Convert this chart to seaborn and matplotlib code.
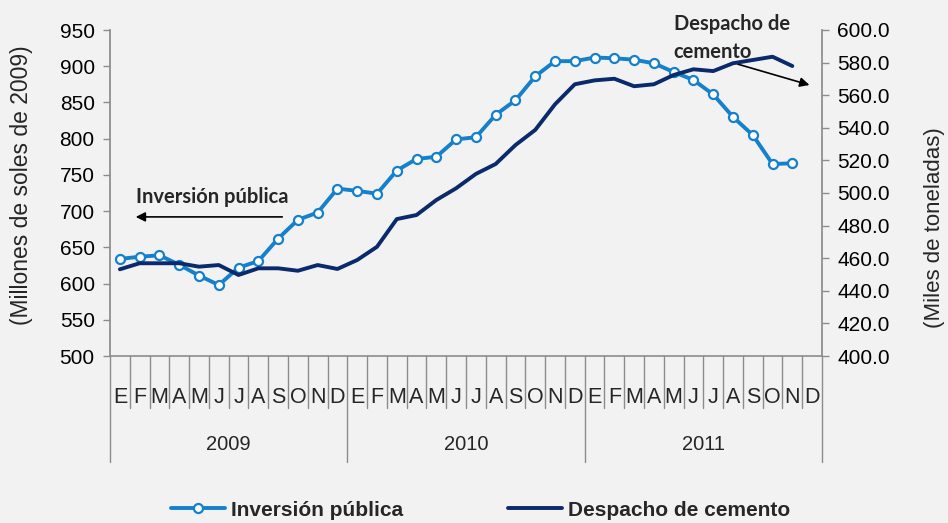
import numpy as np
import pandas as pd
import matplotlib
matplotlib.use('Agg')
import matplotlib.pyplot as plt
import matplotlib.transforms as mtransforms
import seaborn as sns

# data
months = ['E', 'F', 'M', 'A', 'M', 'J', 'J', 'A', 'S', 'O', 'N', 'D']
years = ['2009', '2010', '2011']

# Inversión pública (millones de soles de 2009), left axis
inversion = [634, 637, 639, 626, 611, 598, 622, 631, 662, 688, 698, 731,
             728, 724, 756, 772, 775, 799, 802, 833, 853, 886, 907, 907,
             912, 911, 909, 904, 892, 881, 861, 830, 805, 765, 766, np.nan]

# Despacho de cemento (miles de toneladas), right axis
cemento = [453.2, 456.9, 456.9, 456.9, 454.8, 455.8, 449.7, 453.8, 453.8, 452.3, 455.8, 453.4,
           458.9, 467.0, 484.0, 486.5, 495.7, 502.9, 511.7, 517.8, 529.4, 538.7, 554.4, 566.7,
           569.1, 570.1, 565.5, 566.7, 572.4, 575.9, 574.8, 579.6, 581.6, 583.6, 577.9, np.nan]

light_blue = '#1580cc'
navy = '#0b2a6b'
grey = '#8c8c8c'
bg = '#f2f2f2'

sns.set_theme(style='white')
plt.rcParams['font.family'] = ['Liberation Sans', 'DejaVu Sans']

n = len(months) * len(years)
df = pd.DataFrame({'pos': np.arange(n), 'inversion': inversion, 'cemento': cemento})

fig = plt.figure(figsize=(9.48, 5.23), dpi=100, facecolor=bg)
ax = fig.add_axes([110 / 948, 1 - 356 / 523, 712 / 948, 326 / 523])
ax.set_facecolor(bg)
ax2 = ax.twinx()

sns.lineplot(data=df, x='pos', y='inversion', ax=ax, color=light_blue, lw=2.8,
             marker='o', markersize=6.5, markerfacecolor='white',
             markeredgecolor=light_blue, markeredgewidth=1.6, label='Inversión pública',
             legend=False)
sns.lineplot(data=df, x='pos', y='cemento', ax=ax2, color=navy, lw=2.8,
             label='Despacho de cemento', legend=False)

ax.set_xlim(-0.5, n - 0.5)
ax.set_ylim(500, 950)
ax.set_yticks(np.arange(500, 951, 50))
ax2.set_ylim(400, 600)
ax2.set_yticks(np.arange(400, 601, 20))
ax2.set_yticklabels([f'{v:.1f}' for v in np.arange(400, 601, 20)])

for a in (ax, ax2):
    for s in a.spines.values():
        s.set_visible(False)
    a.tick_params(axis='y', length=5, width=1, color=grey, labelsize=15, labelcolor='black', pad=6)
    a.set_xlabel('')
    a.set_ylabel('')
ax.spines['left'].set_visible(True)
ax.spines['left'].set_color(grey)
ax2.spines['right'].set_visible(True)
ax2.spines['right'].set_color(grey)
ax.spines['bottom'].set_visible(True)
ax.spines['bottom'].set_color(grey)
ax.spines['bottom'].set_linewidth(1.2)

# axis titles
ax.text(-0.1236, 0.525, '(Millones de soles de 2009)', transform=ax.transAxes, rotation=90,
        ha='center', va='center', fontsize=16.5)
ax.text(1.158, 0.394, '(Miles de toneladas)', transform=ax.transAxes, rotation=90,
        ha='center', va='center', fontsize=16)

# category axis: months and years with separators
ax.set_xticks(np.arange(n))
ax.set_xticklabels(months * len(years), fontsize=15.5)
ax.tick_params(axis='x', length=0, pad=22)
trans = mtransforms.blended_transform_factory(ax.transData, ax.transAxes)
month_drop = -(408 - 356) / 326
year_drop = -(462 - 356) / 326
for k in range(n + 1):
    drop = year_drop if k % 12 == 0 else month_drop
    ax.plot([k - 0.5, k - 0.5], [0, drop], transform=trans, color=grey, lw=1, clip_on=False)
for i, yr in enumerate(years):
    ax.text(i * 12 + 5.5, -(445 - 356) / 326, yr, transform=trans, ha='center', va='center',
            fontsize=14.5)

# annotations
ax.annotate('', xy=(0.66, 692), xytext=(8.35, 692),
            arrowprops=dict(arrowstyle='-|>', color='black', lw=1.2, mutation_scale=14))
ax.text(4.66, 720, 'Inversión pública', ha='center', va='center', fontsize=14.5,
        fontweight='bold', family=['Lato', 'DejaVu Sans'])
ax.text(28.0, 939, 'Despacho de\ncemento', ha='left', va='center', fontsize=14.5,
        fontweight='bold', family=['Lato', 'DejaVu Sans'], linespacing=1.45, clip_on=False)
ax.annotate('', xy=(35.0, 873), xytext=(31.1, 904),
            arrowprops=dict(arrowstyle='-|>', color='black', lw=1.2, mutation_scale=14),
            annotation_clip=False)

h1, l1 = ax.get_legend_handles_labels()
h2, l2 = ax2.get_legend_handles_labels()
fig.legend(h1 + h2, l1 + l2, loc='center', bbox_to_anchor=(0.507, 1 - 510 / 523), ncol=2,
           frameon=False, handlelength=2.6, handletextpad=0.3, columnspacing=5.0,
           prop={'family': ['Liberation Sans Narrow', 'Liberation Sans'], 'weight': 'bold', 'size': 15})

fig.savefig('out.png', dpi=100, facecolor=bg)
